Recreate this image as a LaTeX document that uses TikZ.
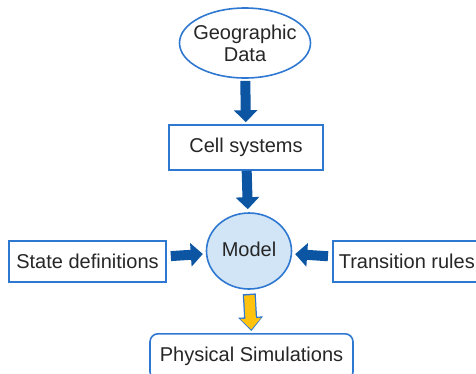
\documentclass[tikz,border=0pt]{standalone}
\usepackage{fontspec}
\setmainfont{Liberation Sans}
\usetikzlibrary{arrows.meta,shapes.geometric}
\definecolor{boxblue}{HTML}{2F78D2}
\definecolor{arrowblue}{HTML}{0B55A3}
\definecolor{modelfill}{HTML}{D2E5F6}
\definecolor{simyellow}{HTML}{FFC20E}
\tikzset{
  box/.style={draw=boxblue, line width=1.6pt, inner sep=0pt, text=black!85,
    font=\fontsize{20}{22}\selectfont},
  flow/.style={arrowblue, line width=10pt, -{Triangle[width=23pt,length=12pt]}},
}
\begin{document}
\begin{tikzpicture}[x=1pt,y=-1pt]
  \useasboundingbox (0,0) rectangle (476,373);
  % nodes
  \node[box, ellipse, inner xsep=-8pt, minimum width=131pt, minimum height=70pt, align=center] (geo) at (245,43) {Geographic\\Data};
  \node[box, minimum width=154pt, minimum height=45pt] (cells) at (246,147.5) {Cell systems};
  \node[box, ellipse, fill=modelfill, minimum width=85pt, minimum height=76pt] (model) at (249,251) {\raisebox{4pt}{Model}};
  \node[box, minimum width=157pt, minimum height=41pt] (states) at (87.5,261.5) {State definitions};
  \node[box, minimum width=148pt, minimum height=41pt, anchor=west] (rules) at (332,261.5) {Transition rules};
  \node[box, rounded corners=8pt, minimum width=203pt, minimum height=46pt, anchor=north] (sim) at (251.5,333) {\raisebox{-1pt}{Physical Simulations}};
  % arrows
  \draw[flow, shorten <=2pt, shorten >=2pt] (geo) -- (cells);
  \draw[flow, shorten >=3pt] (cells) -- (model);
  \draw[flow, shorten <=4pt, shorten >=3pt] (states) -- (model);
  \draw[flow, shorten <=4pt, shorten >=3pt] (rules) -- (model);
  % output arrow
  \draw[boxblue, line width=13pt, -{Triangle[width=24pt,length=14pt]}, shorten <=4pt, shorten >=2pt] (model.south) -- (sim.north);
  \draw[simyellow, line width=10.5pt, -{Triangle[width=20pt,length=11pt]}, shorten <=5.5pt, shorten >=3.6pt] (model.south) -- (sim.north);
\end{tikzpicture}
\end{document}
